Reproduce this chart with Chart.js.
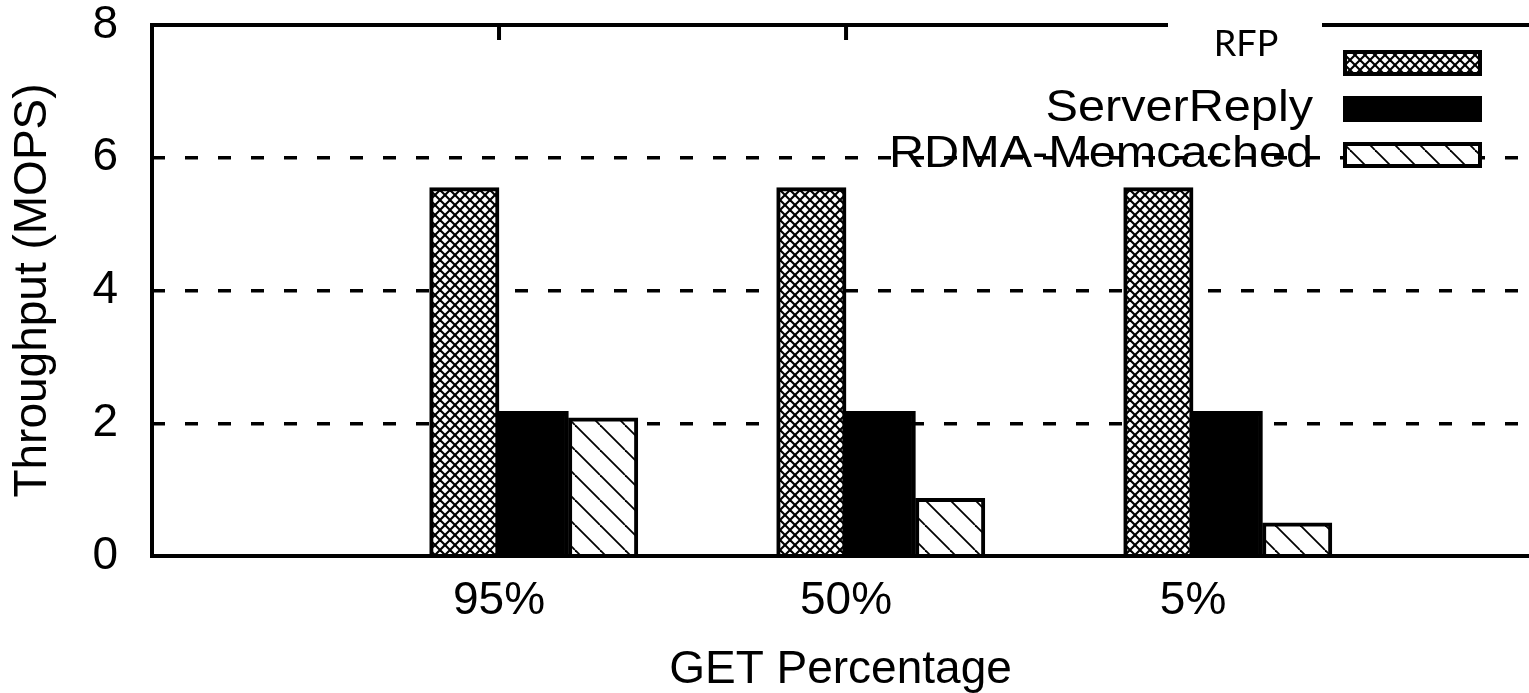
<!DOCTYPE html>
<html>
<head>
<meta charset="utf-8">
<title>Throughput vs GET Percentage</title>
<script src="https://cdn.jsdelivr.net/npm/chart.js@4.4.1/dist/chart.umd.min.js"></script>
<style>
  html, body { margin: 0; padding: 0; background: #fff; overflow: hidden; }
  canvas { display: block; }
</style>
</head>
<body>
<canvas id="throughputChart" width="1529" height="693"></canvas>
<script>
const categories = ["95%", "50%", "5%"];
const seriesNames = ["RFP", "ServerReply", "RDMA-Memcached"];
const rfpValues = [5.55, 5.55, 5.55];
const serverReplyValues = [2.18, 2.18, 2.18];
const rdmaValues = [2.08, 0.87, 0.50];
const yTickValues = [0, 2, 4, 6, 8];

const FONT = '"Liberation Sans", Arial, sans-serif';
const canvas = document.getElementById("throughputChart");
const mainCtx = canvas.getContext("2d");

// gnuplot style fill patterns
function makePattern(size, width, draw) {
  const tile = document.createElement("canvas");
  tile.width = size;
  tile.height = size;
  const g = tile.getContext("2d");
  g.fillStyle = "#fff";
  g.fillRect(0, 0, size, size);
  g.strokeStyle = "#000";
  g.lineWidth = width;
  draw(g, size);
  return mainCtx.createPattern(tile, "repeat");
}

const crossHatch = makePattern(10, 2.1, (g, s) => {
  for (const d of [-s, 0, s]) {
    g.beginPath(); g.moveTo(d, 0); g.lineTo(d + s, s); g.stroke();
    g.beginPath(); g.moveTo(d + s, 0); g.lineTo(d, s); g.stroke();
  }
});

const backHatch = makePattern(25, 1.8, (g, s) => {
  for (const d of [-s, 0, s]) {
    g.beginPath(); g.moveTo(d, 0); g.lineTo(d + s, s); g.stroke();
  }
});

// bar centre offset inside each group (RFP left of the tick, the others right)
const offsets = [-0.1, 0.1, 0.3];
function toPoints(values, k) {
  return values.map((v, i) => ({ x: i + 1 + offsets[k], y: v }));
}

const fills = [crossHatch, "#000", backHatch];
const seriesValues = [rfpValues, serverReplyValues, rdmaValues];

const framePlugin = {
  id: "frame",
  afterDatasetsDraw(chart) {
    const { ctx, chartArea: a, scales } = chart;
    ctx.save();
    ctx.strokeStyle = "#000";
    ctx.lineWidth = 4;
    ctx.beginPath();
    ctx.moveTo(a.right + 5, a.top);
    ctx.lineTo(a.left, a.top);
    ctx.lineTo(a.left, a.bottom);
    ctx.lineTo(a.right + 5, a.bottom);
    ctx.stroke();
    ctx.beginPath();
    scales.x.ticks.forEach(t => {
      const px = scales.x.getPixelForValue(t.value);
      ctx.moveTo(px, a.top);
      ctx.lineTo(px, a.top + 15);
    });
    ctx.stroke();
    ctx.restore();
  }
};

const legendPlugin = {
  id: "sideLegend",
  afterDraw(chart) {
    const { ctx, chartArea: a } = chart;
    ctx.save();
    chart.data.datasets.forEach((ds, i) => {
      const cy = a.top + 38 + 46 * i;
      const sx = a.right - 184;
      ctx.fillStyle = ds.backgroundColor;
      ctx.fillRect(sx, cy - 11, 135, 22);
      ctx.lineWidth = 4;
      ctx.strokeStyle = "#000";
      ctx.strokeRect(sx, cy - 11, 135, 22);
      if (i === 0) {
        ctx.fillStyle = "#fff";
        ctx.fillRect(a.right - 361, 0, 154, 77);
        ctx.fillStyle = "#000";
        ctx.font = '36px Lato, "Open Sans", sans-serif';
        ctx.textAlign = "center";
        ctx.textBaseline = "middle";
        ctx.fillText(ds.label, a.right - 283, 44);
      } else {
        // the source figure is a little wider than tall, so stretch the text
        ctx.save();
        ctx.translate(a.right - 216, cy);
        ctx.scale(1.08, 1);
        ctx.fillStyle = "#000";
        ctx.font = "45px " + FONT;
        ctx.textAlign = "right";
        ctx.textBaseline = "middle";
        ctx.fillText(ds.label, 0, 0);
        ctx.restore();
      }
    });
    ctx.restore();
  }
};

const tickFont = { family: FONT, size: 46 };

new Chart(canvas, {
  type: "bar",
  data: {
    datasets: seriesNames.map((name, k) => ({
      label: name,
      data: toPoints(seriesValues[k], k),
      backgroundColor: fills[k],
      borderColor: "#000",
      borderWidth: 4,
      borderSkipped: "start"
    }))
  },
  options: {
    responsive: false,
    animation: false,
    layout: { padding: { top: 25, left: 0, right: 0, bottom: 0 } },
    plugins: { legend: { display: false }, tooltip: { enabled: false } },
    datasets: { bar: { grouped: false, categoryPercentage: 1, barPercentage: 1 } },
    scales: {
      x: {
        type: "linear",
        offset: false,
        min: 0,
        max: 3.968,
        grid: { display: false },
        border: { display: false },
        afterBuildTicks: s => { s.ticks = categories.map((c, i) => ({ value: i + 1 })); },
        ticks: {
          callback: v => categories[v - 1],
          font: tickFont,
          color: "#000",
          padding: 10,
          maxRotation: 0,
          autoSkip: false
        },
        title: {
          display: true,
          text: "GET Percentage",
          font: { family: FONT, size: 46, lineHeight: 1.0 },
          color: "#000",
          padding: { top: 0, bottom: 0 }
        },
        afterFit: s => { s.height = 137; s.paddingLeft = 0; s.paddingRight = 0; }
      },
      y: {
        min: 0,
        max: 8,
        afterBuildTicks: s => { s.ticks = yTickValues.map(v => ({ value: v })); },
        grid: {
          color: c => (c.tick && c.tick.value > 0 && c.tick.value < 8) ? "#000" : "rgba(0,0,0,0)",
          lineWidth: 3.5,
          drawTicks: false
        },
        border: { display: false, dash: [13, 20] },
        ticks: { font: tickFont, color: "#000", padding: 34 },
        title: { display: true, text: "Throughput (MOPS)", font: tickFont, color: "#000", padding: { top: 6, bottom: 0 } },
        afterFit: s => { s.width = 152; s.paddingTop = 0; s.paddingBottom = 0; }
      }
    }
  },
  plugins: [framePlugin, legendPlugin]
});
</script>
</body>
</html>
